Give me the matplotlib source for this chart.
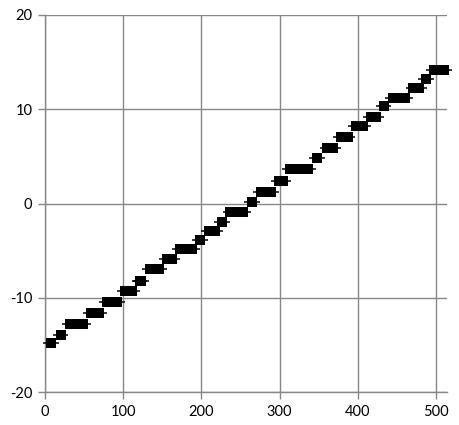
import matplotlib
matplotlib.use("Agg")
import matplotlib.pyplot as plt

# step clusters: x positions of points and their common y level
cluster_x = [
    [8], [20], [32, 38, 44, 49], [59, 64, 69], [79, 85, 92], [102, 107, 111],
    [121, 123], [134, 140, 146], [156, 162], [173, 178, 183, 188], [198],
    [210, 217], [226], [237, 242, 248, 253], [265], [276, 282, 289],
    [299, 304], [313, 319, 325, 331, 336], [348], [361, 368], [378, 383, 387],
    [398, 403, 407], [417, 423], [433], [445, 450, 455, 460], [471, 478],
    [487], [497, 503, 510],
]
cluster_y = [
    -14.85, -13.9, -12.83, -11.66, -10.5, -9.33, -8.27, -7.0, -5.94, -4.88,
    -3.92, -2.97, -2.0, -0.95, 0.2, 1.27, 2.44, 3.7, 4.88, 5.94, 7.1, 8.17,
    9.22, 10.3, 11.24, 12.3, 13.25, 14.2,
]
x_err = 10
x_ticks = [0, 100, 200, 300, 400, 500]
y_ticks = [-20, -10, 0, 10, 20]

xs, ys = [], []
for cx, cy in zip(cluster_x, cluster_y):
    xs.extend(cx)
    ys.extend([cy] * len(cx))

plt.rcParams['font.family'] = ['Lato', 'DejaVu Sans']
plt.rcParams['axes.unicode_minus'] = False
fig = plt.figure(figsize=(4.6, 4.25), dpi=100)
ax = fig.add_axes([45/460, 1-392/425, (447-45)/460, (392-15)/425])

grid_c = '#878787'
cont = ax.errorbar(xs, ys, xerr=x_err, fmt='s', color='black', ecolor='black',
                   elinewidth=1.1, capsize=0, markersize=6.5, markeredgewidth=0,
                   zorder=3)
for art in cont.get_children():
    art.set_clip_on(False)

ax.set_xlim(0, 514)
ax.set_ylim(-20, 20)
ax.set_xticks(x_ticks)
ax.set_yticks(y_ticks)
ax.grid(True, color=grid_c, linewidth=1.0)
ax.set_axisbelow(True)
for s in ['top', 'right']:
    ax.spines[s].set_visible(False)
for s in ['left', 'bottom']:
    ax.spines[s].set_color(grid_c)
    ax.spines[s].set_linewidth(1.0)
ax.tick_params(axis='both', direction='out', length=5, width=1.0, color=grid_c,
               labelsize=10.5, labelcolor='black', pad=4)

fig.savefig('out.png', dpi=100)
